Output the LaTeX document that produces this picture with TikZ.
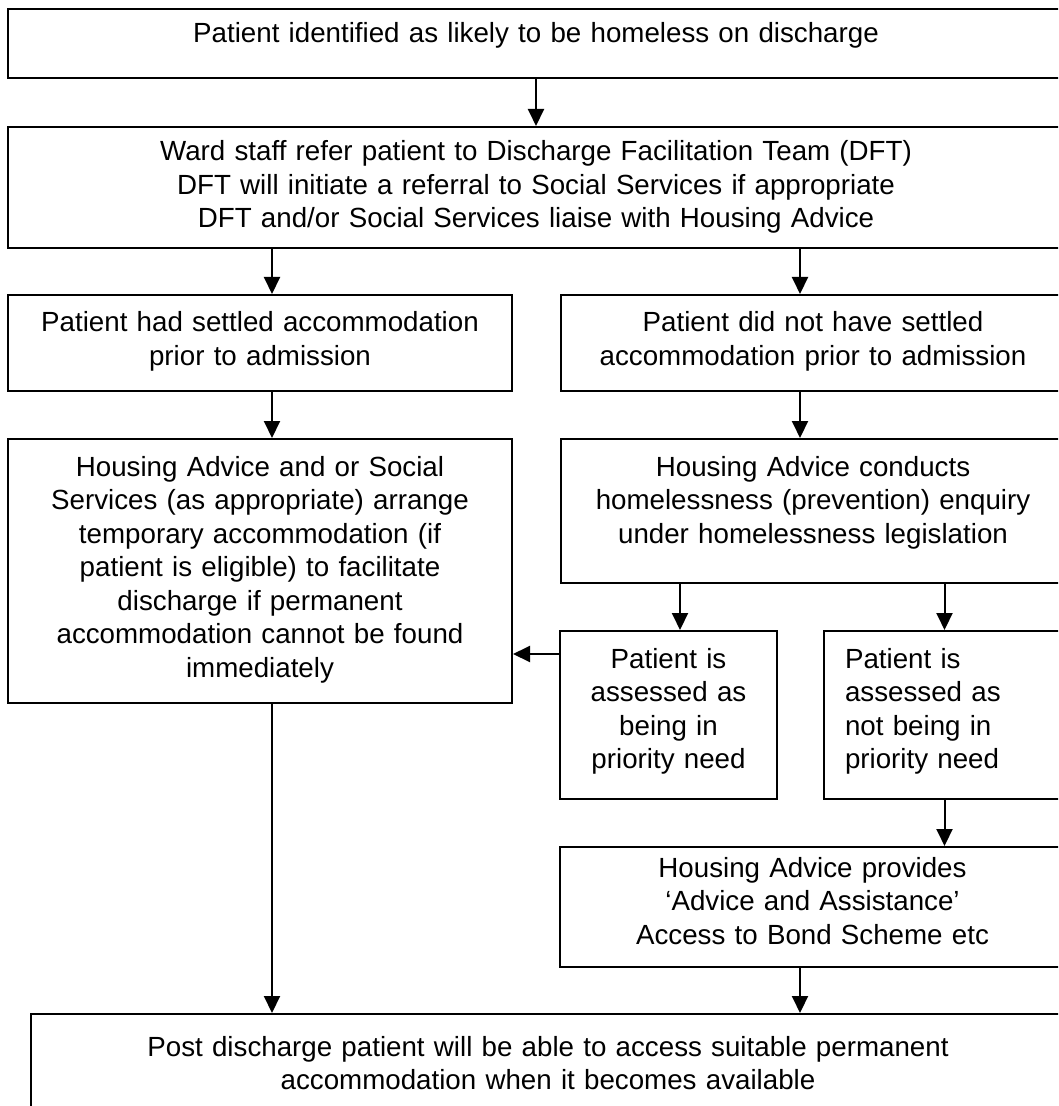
\documentclass[tikz,border=0pt]{standalone}
\usepackage{fontspec}
\setmainfont{Liberation Sans}
\usetikzlibrary{arrows.meta}

\begin{document}
\begin{tikzpicture}[x=0.5pt,y=-0.5pt,
  font=\fontsize{13.86pt}{16.75pt}\selectfont,
  flowbox/.style={draw,line width=1pt,anchor=north west,align=center,inner xsep=3pt,inner ysep=8.5pt,text height=10pt},
  flowarrow/.style={line width=1pt,-{Triangle[length=8.5pt,width=8pt]}}]
  \clip (0,0) rectangle (1058,1106);

  \node[flowbox,text width=522pt,text height=8.5pt,text depth=9pt] (identified) at (7,8) {Patient identified as likely to be homeless on discharge};
  \node[flowbox,text width=522pt,text height=8.5pt,text depth=35pt] (referral) at (7,126) {Ward staff refer patient to Discharge Facilitation Team (DFT)\\DFT will initiate a referral to Social Services if appropriate\\DFT and/or Social Services liaise with Housing Advice};

  \node[flowbox,text width=246pt,text depth=21pt] (settled) at (7,294) {Patient had settled accommodation\\prior to admission};
  \node[flowbox,text width=246pt,text depth=21pt] (unsettled) at (560,294) {Patient did not have settled\\accommodation prior to admission};

  \node[flowbox,text width=246pt,text depth=105pt] (temporary) at (7,438) {Housing Advice and or Social\\Services (as appropriate) arrange\\temporary accommodation (if\\patient is eligible) to facilitate\\discharge if permanent\\accommodation cannot be found\\immediately};
  \node[flowbox,text width=246pt,text depth=45pt] (enquiry) at (560,438) {Housing Advice conducts\\homelessness (prevention) enquiry\\under homelessness legislation};

  \node[flowbox,text width=102.5pt,text depth=57pt] (priority) at (559,630) {Patient is\\assessed as\\being in\\priority need};
  \node[flowbox,align=left,inner xsep=10.5pt,text width=99.5pt,text depth=57pt] (nopriority) at (823,630) {Patient is\\assessed as\\not being in\\priority need};

  \node[flowbox,text width=246.5pt,text height=6.5pt,text depth=36.5pt] (advice) at (559,846) {Housing Advice provides\\‘Advice and Assistance’\\Access to Bond Scheme etc};
  \node[flowbox,text width=511pt,text height=12.5pt,text depth=21.5pt] (available) at (30,1013) {Post discharge patient will be able to access suitable permanent\\accommodation when it becomes available};

  % columns of the connectors
  \coordinate (leftcol) at (272,0);
  \coordinate (midcol) at (680,0);
  \coordinate (rightcol) at (800,0);
  \coordinate (sideline) at (0,654);

  \draw[flowarrow] (identified.south) -- (referral.north);
  \draw[flowarrow] (referral.south -| leftcol) -- (settled.north -| leftcol);
  \draw[flowarrow] (referral.south -| rightcol) -- (unsettled.north -| rightcol);
  \draw[flowarrow] (settled.south -| leftcol) -- (temporary.north -| leftcol);
  \draw[flowarrow] (unsettled.south -| rightcol) -- (enquiry.north -| rightcol);
  \draw[flowarrow] (enquiry.south -| midcol) -- (priority.north -| midcol);
  \draw[flowarrow] (enquiry.south -| nopriority.north) -- (nopriority.north);
  \draw[flowarrow] (priority.west |- sideline) -- (temporary.east |- sideline);
  \draw[flowarrow] (nopriority.south) -- (advice.north -| nopriority.south);
  \draw[flowarrow] (advice.south -| rightcol) -- (available.north -| rightcol);
  \draw[flowarrow] (temporary.south -| leftcol) -- (available.north -| leftcol);
\end{tikzpicture}
\end{document}
